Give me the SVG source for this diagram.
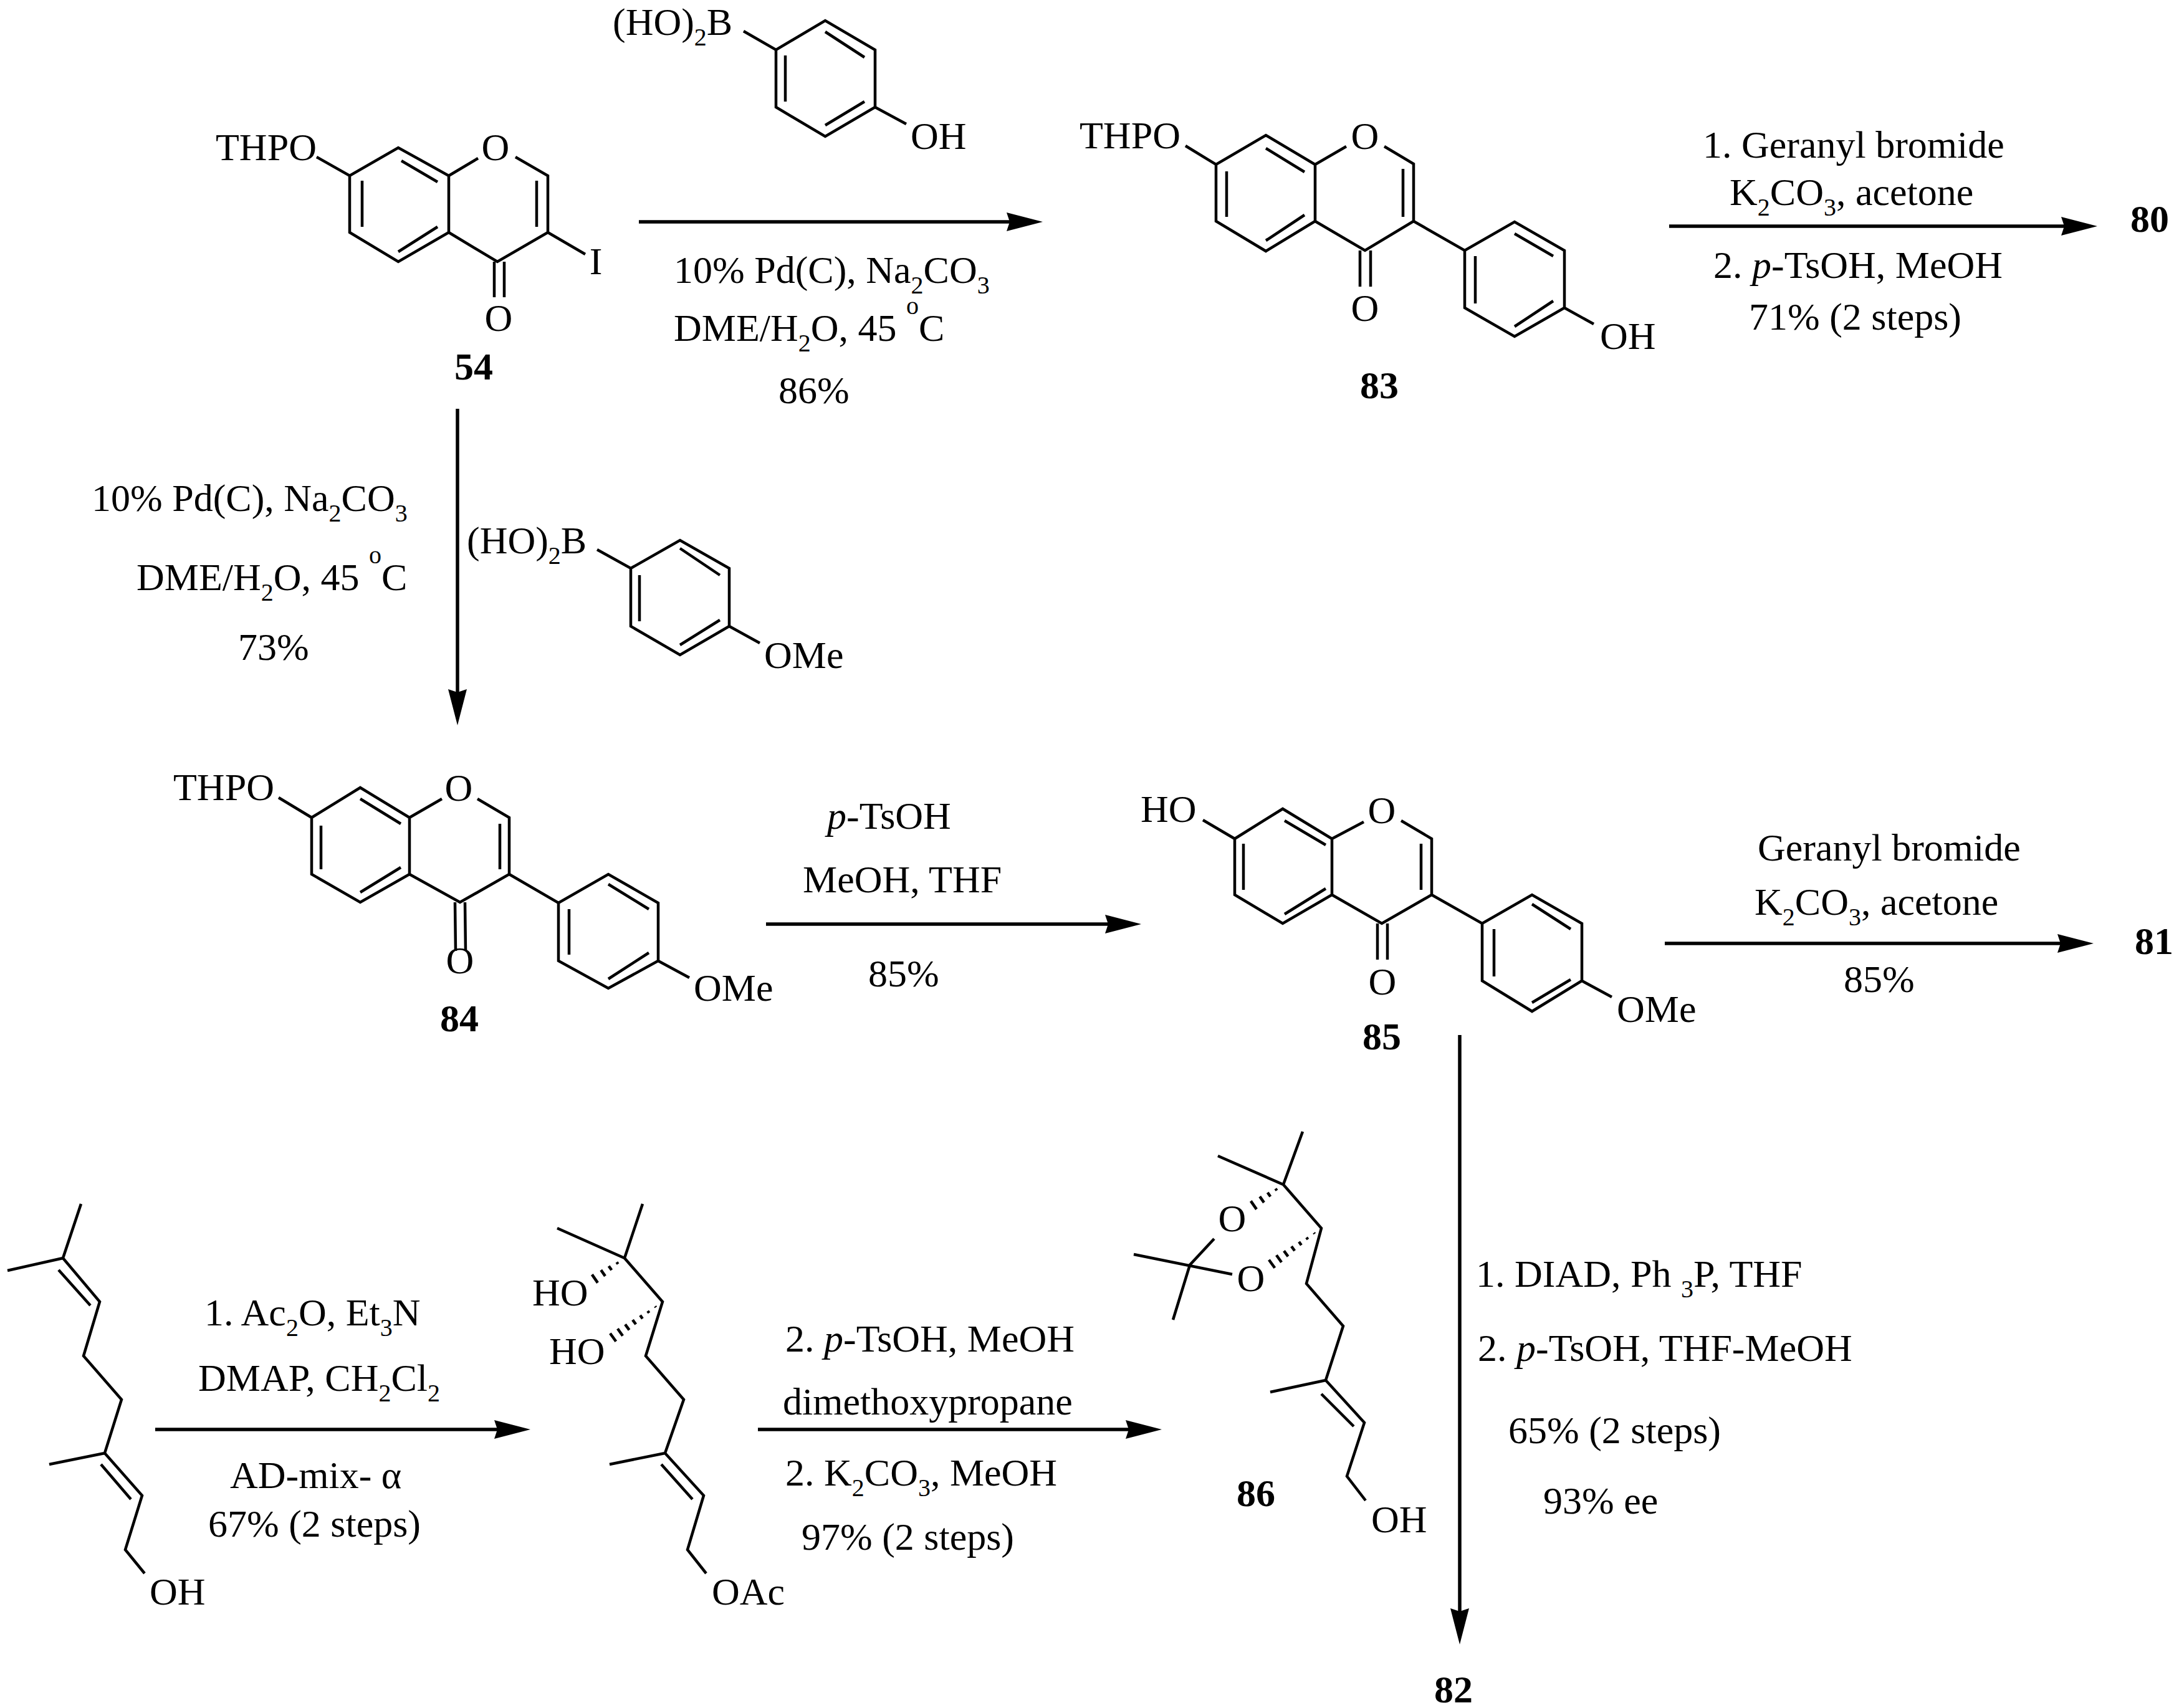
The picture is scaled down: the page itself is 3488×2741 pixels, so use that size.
<svg xmlns="http://www.w3.org/2000/svg" xmlns:xlink="http://www.w3.org/1999/xlink" width="3488" height="2741" viewBox="0 0 3488 2741">
<style>
text{font-family:"Liberation Serif","Times New Roman",serif;font-size:62px;fill:#000}
.m{text-anchor:middle}
.b{font-weight:bold}
.s{font-size:40px}
.i{font-style:italic}
.bond{fill:none;stroke:#000;stroke-width:4.5;stroke-linecap:butt;stroke-linejoin:miter}
.hash{fill:none;stroke:#000;stroke-width:4.5}
.arr{fill:none;stroke:#000;stroke-width:5.5;marker-end:url(#head)}
</style>
<defs>
<marker id="head" markerUnits="userSpaceOnUse" markerWidth="60" markerHeight="34" viewBox="0 0 60 34" refX="5" refY="17" orient="auto">
<path d="M0 2 L58 17 L0 32 L5 17 Z" fill="#000"/>
</marker>
<path id="hashS" d="M-12.6 6.4L-10.4 9.6M-25.3 12.7L-20.7 19.3M-37.8 19.1L-31 28.9M-52.2 26.4L-43 39.6"/>
<path id="hashL" d="M-11.9 7.4L-10.7 9M-23.9 14.8L-21.5 18M-35.9 21.8L-32.1 27.2M-48 29.1L-42.8 36.3M-60 36.4L-53.4 45.4M-72.1 43.3L-63.9 54.7M-84.1 50.7L-74.7 63.7"/>
</defs>
<rect width="3488" height="2741" fill="#fff"/>

<g id="connectors">
<line class="arr" x1="1025" y1="356" x2="1620" y2="356"/>
<line class="arr" x1="2678" y1="363" x2="3312" y2="363"/>
<line class="arr" x1="734" y1="656" x2="734" y2="1111"/>
<line class="arr" x1="1229" y1="1483" x2="1778" y2="1483"/>
<line class="arr" x1="2671" y1="1514" x2="3306" y2="1514"/>
<line class="arr" x1="249" y1="2294" x2="798" y2="2294"/>
<line class="arr" x1="1216" y1="2294" x2="1811" y2="2294"/>
<line class="arr" x1="2342" y1="1661" x2="2342" y2="2586"/>
</g>

<g id="node-54">
<path class="bond" d="M508 252L561 282L639 237L720 282L720 373L639 420L561 373L561 282M720 282L767 254M827 252L879 282L879 373L798 420L720 373M581 290L581 364M644 258L702 292M639 404L702 364M861 290L861 364M793 420L793 477M809 420L809 477M879 373L939 408"/>
<text x="346" y="257">THPO</text>
<text class="m" x="795" y="257">O</text>
<text class="m" x="800" y="531">O</text>
<text class="m" x="956" y="440">I</text>
<text class="m b" x="760" y="609">54</text>
</g>

<g id="reagent-boronic-oh">
<path class="bond" d="M1193 50L1245 80L1324 33L1404 80L1404 172L1324 219L1245 172L1245 80M1404 172L1454 199M1260 89L1260 163M1324 51L1387 92M1324 201L1387 163"/>
<text x="983" y="56">(HO)<tspan class="s" dy="17">2</tspan><tspan dy="-17">B</tspan></text>
<text x="1461" y="239">OH</text>
</g>

<g id="cond-54-83">
<text x="1081" y="454">10% Pd(C), Na<tspan class="s" dy="17">2</tspan><tspan dy="-17">CO</tspan><tspan class="s" dy="17">3</tspan></text>
<text x="1081" y="547">DME/H<tspan class="s" dy="17">2</tspan><tspan dy="-17">O, 45 </tspan><tspan class="s" dy="-43">o</tspan><tspan dy="43">C</tspan></text>
<text x="1249" y="647">86%</text>
</g>

<g id="node-83">
<path class="bond" d="M1902 234L1951 264L2031 217L2110 264L2110 355L2031 403L1951 355L1951 264M2110 264L2160 235M2221 235L2268 263L2268 355L2190 402L2110 355M1968 275L1968 348M2031 238L2093 276M2031 386L2093 345M2251 271L2251 348M2182 402L2182 460M2199 402L2199 460M2268 355L2350 402L2430 356L2510 402L2510 494L2430 540L2350 494L2350 402M2367 411L2367 487M2430 375L2492 411M2430 524L2492 483M2510 494L2557 520"/>
<text x="1732" y="238">THPO</text>
<text class="m" x="2190" y="239">O</text>
<text class="m" x="2190" y="515">O</text>
<text x="2567" y="560">OH</text>
<text class="m b" x="2213" y="639">83</text>
</g>

<g id="cond-83-80">
<text x="2732" y="253">1. Geranyl bromide</text>
<text x="2775" y="329">K<tspan class="s" dy="17">2</tspan><tspan dy="-17">CO</tspan><tspan class="s" dy="17">3</tspan><tspan dy="-17">, acetone</tspan></text>
<text x="2749" y="446">2. <tspan class="i">p</tspan>-TsOH, MeOH</text>
<text x="2806" y="529">71% (2 steps)</text>
</g>
<g id="node-80"><text class="b" x="3418" y="372">80</text></g>

<g id="cond-54-84">
<text x="147" y="820">10% Pd(C), Na<tspan class="s" dy="17">2</tspan><tspan dy="-17">CO</tspan><tspan class="s" dy="17">3</tspan></text>
<text x="219" y="947">DME/H<tspan class="s" dy="17">2</tspan><tspan dy="-17">O, 45 </tspan><tspan class="s" dy="-43">o</tspan><tspan dy="43">C</tspan></text>
<text x="382" y="1059">73%</text>
</g>

<g id="reagent-boronic-ome">
<path class="bond" d="M958 882L1012 912L1091 867L1170 912L1170 1005L1091 1051L1012 1005L1012 912M1026 923L1026 997M1091 880L1155 923M1091 1035L1155 995M1170 1005L1219 1032"/>
<text x="749" y="888">(HO)<tspan class="s" dy="17">2</tspan><tspan dy="-17">B</tspan></text>
<text x="1226" y="1072">OMe</text>
</g>

<g id="node-84">
<path class="bond" d="M447 1280L500 1312L578 1264L657 1312L657 1403L578 1448L500 1403L500 1312M657 1312L709 1282M766 1282L817 1312L817 1403L738 1448L657 1403M515 1325L515 1395M578 1282L643 1322M578 1432L643 1392M802 1322L802 1395M730 1448L731 1526M746 1448L747 1526M817 1403L896 1449L976 1403L1056 1449L1056 1542L976 1586L896 1542L896 1449M913 1459L913 1532M976 1419L1041 1459M976 1571L1041 1529M1056 1542L1106 1569"/>
<text x="278" y="1284">THPO</text>
<text class="m" x="736" y="1285">O</text>
<text class="m" x="738" y="1562">O</text>
<text x="1113" y="1606">OMe</text>
<text class="m b" x="737" y="1655">84</text>
</g>

<g id="cond-84-85">
<text x="1327" y="1330"><tspan class="i">p</tspan>-TsOH</text>
<text x="1288" y="1432">MeOH, THF</text>
<text x="1393" y="1583">85%</text>
</g>

<g id="node-85">
<path class="bond" d="M1930 1316L1981 1346L2058 1298L2137 1346L2137 1436L2058 1482L1981 1436L1981 1346M2137 1346L2188 1319M2248 1317L2297 1346L2297 1436L2217 1482L2137 1436M1995 1354L1995 1428M2061 1317L2127 1356M2061 1467L2127 1426M2280 1354L2280 1428M2210 1482L2210 1540M2226 1482L2226 1540M2297 1436L2378 1482L2458 1436L2538 1482L2538 1574L2458 1623L2378 1574L2378 1482M2397 1491L2397 1567M2458 1451L2520 1491M2458 1609L2520 1572M2538 1574L2586 1600"/>
<text x="1830" y="1319">HO</text>
<text class="m" x="2217" y="1321">O</text>
<text class="m" x="2218" y="1596">O</text>
<text x="2594" y="1640">OMe</text>
<text class="m b" x="2217" y="1684">85</text>
</g>

<g id="cond-85-81">
<text x="2820" y="1381">Geranyl bromide</text>
<text x="2815" y="1468">K<tspan class="s" dy="17">2</tspan><tspan dy="-17">CO</tspan><tspan class="s" dy="17">3</tspan><tspan dy="-17">, acetone</tspan></text>
<text x="2958" y="1592">85%</text>
</g>
<g id="node-81"><text class="b" x="3425" y="1531">81</text></g>

<g id="node-geraniol">
<path class="bond" d="M130 1932L101 2019L12 2039M101 2019L160 2089L134 2176L195 2246L168 2332L79 2350M168 2332L228 2400L201 2487L232 2525M94 2038L145 2095M162 2350L210 2406"/>
<text x="240" y="2575">OH</text>
</g>

<g id="cond-ger-diol">
<text x="328" y="2127">1. Ac<tspan class="s" dy="17">2</tspan><tspan dy="-17">O, Et</tspan><tspan class="s" dy="17">3</tspan><tspan dy="-17">N</tspan></text>
<text x="318" y="2232">DMAP, CH<tspan class="s" dy="17">2</tspan><tspan dy="-17">Cl</tspan><tspan class="s" dy="17">2</tspan></text>
<text x="369" y="2388">AD-mix- α</text>
<text x="334" y="2466">67% (2 steps)</text>
</g>

<g id="node-diol">
<path class="bond" d="M1031 1932L1002 2019L894 1971M1002 2019L1063 2089L1036 2176L1097 2246L1067 2332L978 2350M1067 2332L1129 2400L1103 2487L1133 2525M1061 2350L1111 2406"/>
<use class="hash" xlink:href="#hashS" href="#hashS" x="1002" y="2019"/>
<use class="hash" xlink:href="#hashL" href="#hashL" x="1063" y="2089"/>
<text x="854" y="2095">HO</text>
<text x="881" y="2189">HO</text>
<text x="1142" y="2575">OAc</text>
</g>

<g id="cond-diol-86">
<text x="1260" y="2169">2. <tspan class="i">p</tspan>-TsOH, MeOH</text>
<text x="1256" y="2270">dimethoxypropane</text>
<text x="1260" y="2384">2. K<tspan class="s" dy="17">2</tspan><tspan dy="-17">CO</tspan><tspan class="s" dy="17">3</tspan><tspan dy="-17">, MeOH</tspan></text>
<text x="1286" y="2487">97% (2 steps)</text>
</g>

<g id="node-86">
<path class="bond" d="M2090 1816L2059 1901L1954 1855M2059 1901L2120 1971L2096 2060L2155 2128L2127 2215L2038 2234M2127 2215L2189 2283L2161 2369L2191 2408M2120 2237L2172 2289M1819 2013L1977 2045M1948 1988L1909 2030L1882 2118"/>
<use class="hash" xlink:href="#hashS" href="#hashS" x="2059" y="1901"/>
<use class="hash" xlink:href="#hashL" href="#hashL" x="2120" y="1971"/>
<text class="m" x="1977" y="1976">O</text>
<text class="m" x="2007" y="2072">O</text>
<text x="2200" y="2459">OH</text>
<text class="m b" x="2015" y="2417">86</text>
</g>

<g id="cond-85-82">
<text x="2368" y="2065">1. DIAD, Ph <tspan class="s" dy="17">3</tspan><tspan dy="-17">P, THF</tspan></text>
<text x="2371" y="2184">2. <tspan class="i">p</tspan>-TsOH, THF-MeOH</text>
<text x="2420" y="2316">65% (2 steps)</text>
<text x="2476" y="2429">93% ee</text>
</g>
<g id="node-82"><text class="b" x="2301" y="2732">82</text></g>
</svg>
